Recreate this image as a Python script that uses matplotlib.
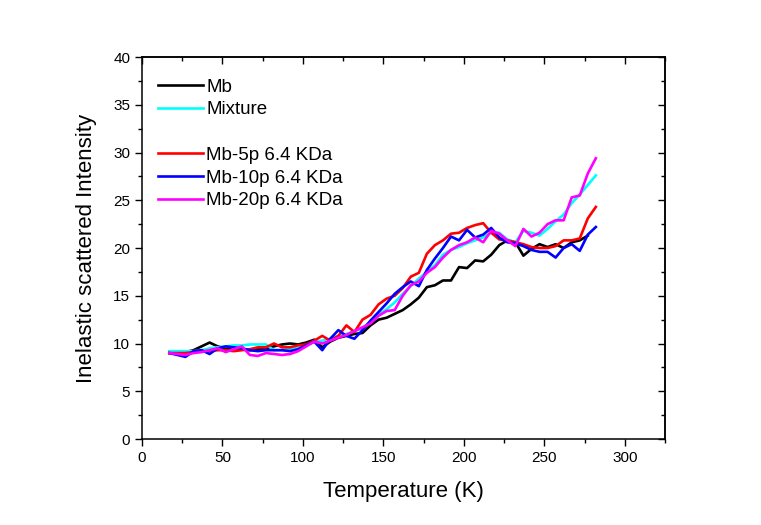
import matplotlib
matplotlib.use("Agg")
import matplotlib.pyplot as plt
from matplotlib.lines import Line2D
from matplotlib.ticker import MultipleLocator

plt.rcParams['font.family'] = ['Liberation Sans', 'DejaVu Sans']

temps = [17, 22, 27, 32, 37, 42, 47, 52, 57, 62, 67, 72, 77, 82, 87, 92, 97, 102,
         107, 112, 117, 122, 127, 132, 137, 142, 147, 152, 157, 162, 167, 172, 177,
         182, 187, 192, 197, 202, 207, 212, 217, 222, 227, 232, 237, 242, 247, 252,
         257, 262, 267, 272, 277, 282]

mb = [9.0, 9.0, 9.1, 9.3, 9.7, 10.1, 9.7, 9.5, 9.3, 9.4, 9.3, 9.4, 9.5, 9.7, 9.9,
      10.0, 9.9, 10.1, 10.4, 9.6, 10.2, 10.6, 10.8, 11.0, 11.1, 11.9, 12.5, 12.7,
      13.1, 13.5, 14.1, 14.8, 15.9, 16.1, 16.6, 16.6, 18.0, 17.9, 18.7, 18.6, 19.3,
      20.3, 20.8, 20.6, 19.2, 19.9, 20.4, 20.1, 20.4, 20.0, 20.6, 20.8, 21.3]

mixture = [9.2, 9.2, 9.2, 9.2, 9.3, 9.5, 9.6, 9.7, 9.8, 9.8, 9.9, 9.9, 9.9, 9.3,
           9.3, 9.4, 9.5, 9.8, 10.2, 10.3, 10.5, 10.8, 11.0, 11.3, 11.6, 12.3, 13.0,
           13.6, 14.3, 15.2, 16.0, 16.8, 17.5, 18.2, 19.3, 19.8, 20.1, 20.5, 20.8,
           21.1, 21.6, 21.6, 20.9, 20.6, 21.8, 21.6, 21.3, 22.0, 22.8, 23.5, 24.7,
           25.6, 26.6, 27.6]

mb5p = [9.0, 9.0, 9.0, 9.1, 9.2, 9.2, 9.3, 9.3, 9.2, 9.3, 9.4, 9.6, 9.6, 10.0, 9.6,
        9.6, 9.8, 9.9, 10.3, 10.8, 10.3, 10.8, 11.9, 11.2, 12.5, 13.0, 14.1, 14.7,
        15.0, 15.8, 17.0, 17.4, 19.4, 20.3, 20.8, 21.5, 21.6, 22.1, 22.4, 22.6, 21.6,
        20.9, 20.8, 20.6, 20.4, 20.1, 20.0, 20.0, 20.2, 20.8, 20.8, 21.0, 23.1, 24.3]

mb10p = [9.0, 8.8, 8.6, 9.2, 9.3, 8.9, 9.5, 9.7, 9.6, 9.5, 9.3, 9.2, 9.3, 9.3, 9.3,
         9.2, 9.4, 9.8, 10.2, 9.3, 10.5, 11.4, 10.8, 10.5, 11.4, 12.4, 13.3, 14.2,
         15.2, 15.9, 16.5, 16.0, 17.7, 18.9, 20.0, 21.2, 20.8, 21.9, 21.1, 21.4, 22.1,
         21.1, 20.6, 20.5, 20.2, 19.8, 19.6, 19.6, 19.0, 20.0, 20.4, 19.7, 21.4, 22.2]

mb20p = [9.0, 8.9, 8.8, 9.0, 9.1, 9.3, 9.5, 9.1, 9.4, 9.7, 8.8, 8.7, 9.0, 8.9, 8.8,
         8.9, 9.2, 9.7, 10.2, 10.0, 10.3, 10.6, 10.9, 11.3, 11.7, 12.1, 12.9, 13.4,
         13.5, 15.0, 16.1, 16.5, 17.4, 18.0, 19.0, 19.8, 20.3, 20.6, 21.1, 20.6, 21.8,
         21.5, 20.8, 20.2, 22.0, 21.2, 21.6, 22.5, 22.9, 22.9, 25.3, 25.5, 27.8, 29.4]

labels = ['Mb', 'Mixture', 'Mb-5p 6.4 KDa', 'Mb-10p 6.4 KDa', 'Mb-20p 6.4 KDa']
colors = ['#000000', '#00FFFF', '#FF0000', '#0000FF', '#FF00FF']
series = [mb, mixture, mb5p, mb10p, mb20p]

fig = plt.figure(figsize=(7.61, 5.25), dpi=100)
ax = fig.add_axes([0.1866, 0.1638, 0.6873, 0.7276])

handles = []
for lab, col, vals in zip(labels, colors, series):
    h, = ax.plot(temps[:len(vals)], vals, color=col, lw=1.9, label=lab)
    handles.append(h)

ax.set_xlim(0, 325)
ax.set_ylim(0, 40)
ax.xaxis.set_major_locator(MultipleLocator(50))
ax.xaxis.set_minor_locator(MultipleLocator(25))
ax.yaxis.set_major_locator(MultipleLocator(5))
ax.yaxis.set_minor_locator(MultipleLocator(2.5))
ax.tick_params(which='both', direction='out', width=1.0, labelsize=11)
ax.tick_params(which='major', length=5)
ax.tick_params(which='minor', length=3)
for s in ax.spines.values():
    s.set_linewidth(1.1)

top = ax.secondary_xaxis('top')
top.xaxis.set_major_locator(MultipleLocator(50))
top.xaxis.set_minor_locator(MultipleLocator(25))
top.tick_params(which='both', direction='in', labeltop=False, width=1.0)
top.tick_params(which='major', length=5)
top.tick_params(which='minor', length=3)
top.spines['top'].set_linewidth(1.1)

right = ax.secondary_yaxis('right')
right.yaxis.set_major_locator(MultipleLocator(5))
right.yaxis.set_minor_locator(MultipleLocator(2.5))
right.tick_params(which='both', direction='in', labelright=False, width=1.0)
right.tick_params(which='major', length=5)
right.tick_params(which='minor', length=3)
right.spines['right'].set_linewidth(1.1)

ax.set_xlabel('Temperature (K)', fontsize=16, labelpad=12)
ax.set_ylabel('Inelastic scattered Intensity', fontsize=16, labelpad=12)

blank = Line2D([], [], color='none')
leg_handles = [handles[0], handles[1], blank, handles[2], handles[3], handles[4]]
leg_labels = [labels[0], labels[1], ' ', labels[2], labels[3], labels[4]]
ax.legend(leg_handles, leg_labels, loc='upper left', bbox_to_anchor=(0.031, 0.944),
          frameon=False, borderpad=0, borderaxespad=0, fontsize=13.5,
          handlelength=2.4, handletextpad=0.15, labelspacing=0.3)

fig.savefig('out.png', dpi=100)
